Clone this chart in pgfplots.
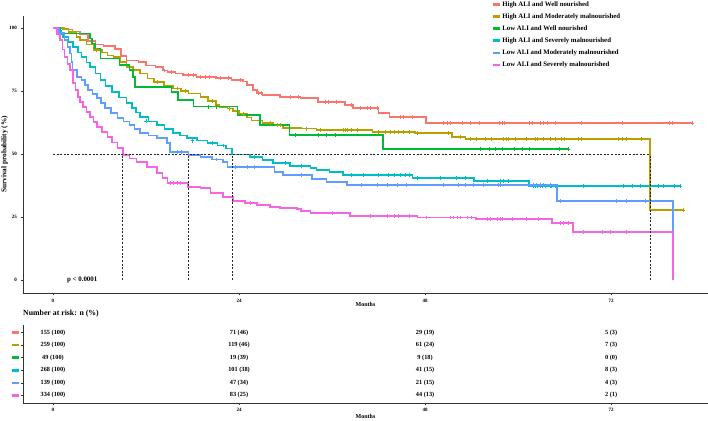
\documentclass[border=0pt]{standalone}
\usepackage{fontspec}
\setmainfont{Liberation Serif}
\usepackage{pgfplots}
\pgfplotsset{compat=1.18}
\definecolor{c1}{HTML}{F8766D}
\definecolor{c2}{HTML}{B79F00}
\definecolor{c3}{HTML}{00BA38}
\definecolor{c4}{HTML}{00BFC4}
\definecolor{c5}{HTML}{619CFF}
\definecolor{c6}{HTML}{F564E3}
\pgfplotsset{
  km/.style={const plot, mark=none, line width=1.5pt},
  cens/.style={only marks, mark=+, mark size=1.9pt, line width=0.5pt, forget plot},
  med/.style={dashed, dash pattern=on 2pt off 1.6pt, black!85, line width=0.6pt, forget plot},
}
\begin{document}
\begin{tikzpicture}[x=1pt,y=1pt]
\path[use as bounding box] (0,0) rectangle (708,420);
\begin{axis}[
  at={(23pt,127pt)}, anchor=south west,
  scale only axis, width=685pt, height=277pt,
  xmin=-3.87, xmax=84.5, ymin=-5.16, ymax=104.8,
  axis lines=left, axis line style={-, black!80, line width=0.8pt},
  xtick={0,24,48,72}, ytick={0,25,50,75,100},
  tick align=outside, major tick length=2.5pt, tick style={black!80, line width=0.5pt},
  /pgf/number format/assume math mode=true,
  ticklabel style={font=\fontsize{5}{6}\selectfont\bfseries},
  xlabel={Months}, ylabel={Survival probability (\%)},
  xlabel style={at={(axis description cs:0.5,-0.043)}, anchor=center, inner sep=0pt, font=\fontsize{6}{7}\selectfont\bfseries},
  ylabel style={at={(axis description cs:-0.0215,0.5)}, anchor=south, inner sep=0pt, font=\fontsize{7.3}{8}\selectfont\bfseries},
  legend style={at={(axis description cs:0.684,1.058)}, anchor=north west, draw=none, fill=none,
    font=\fontsize{6.8}{8}\selectfont\bfseries, inner sep=0pt, row sep=3.4pt,
    nodes={inner sep=1pt, text height=5.2pt, text depth=1.5pt},
    /tikz/every even column/.append style={column sep=5pt}},
  legend cell align=left,
  legend image code/.code={\draw[#1, line width=2.6pt] (0pt,0pt) -- (7pt,0pt);},
  clip=false,
]
% High ALI and Well nourished
\addplot[km, c1] coordinates {
(0,100) (1.5,99.4) (2.5,98.7) (3.5,97.4) (4.5,94.8) (5.5,93.5) (6.5,92.9) (8,91.6) (8.8,89) (9.5,87.1)
(11,86.5) (12,85.2) (13.2,84.5) (14.2,83.2) (14.8,82.6) (15.8,81.9) (16.8,81.3) (18.5,80.6) (21,80.2)
(23,79.4) (24.5,78.7) (25,77.4) (25.8,75.5) (26.3,74.2) (27,73.5) (29.3,72.6) (31.9,72.2) (34.2,70.6)
(37.7,69.4) (38.7,68.3) (42,66.3) (43.4,64.7) (48.1,62.3) (82.6,62.3)};
\addlegendentry{High ALI and Well nourished}
% High ALI and Moderately malnourished
\addplot[km, c2] coordinates {
(0,100) (1.3,99.6) (2.0,98.5) (3.0,96.5) (3.5,95.2) (4.3,93.5) (5.2,91.3) (6.3,90.3) (7.0,89.2) (7.8,88.5)
(8.7,86.5) (9.5,84.5) (10.3,83.4) (11.2,82) (12.2,80) (13,78.6) (14.3,77.3) (15.5,76) (16.5,75) (17.5,74)
(19,72.6) (20,71) (21,69.5) (21.5,68.7) (22.5,68) (23.2,67) (24,65.8) (25,64.6) (25.6,63.4) (27,62.3)
(28.4,61.5) (29.7,60.3) (32,60.1) (34,59.5) (41.2,58.7) (46.7,58.3) (51.5,56.7) (53.2,56) (77,27.8) (81.3,27.8)};
\addlegendentry{High ALI and Moderately malnourished}
% Low ALI and Well nourished
\addplot[km, c3] coordinates {
(0,100) (0.9,97.9) (4.8,95.9) (5.0,93.9) (5.4,91.9) (6.1,88) (8.6,85.3) (9.9,83.3) (10.3,80.6) (10.6,76.7)
(15.3,74.7) (16.1,71.4) (18.1,68.8) (23.8,65.5) (26.7,61.5) (30.5,57.5) (42.6,52) (66.5,52)};
\addlegendentry{Low ALI and Well nourished}
% High ALI and Severely malnourished
\addplot[km, c4] coordinates {
(0,100) (0.5,99) (1.0,97.5) (1.3,96.4) (2.0,94.5) (2.6,92.5) (3.2,90.3) (3.7,88.5) (4.3,86.3) (4.8,84.5)
(5.5,82) (6.1,79.4) (6.8,77) (7.6,74.6) (8.5,72.4) (9.5,70.2) (10.2,68.3) (10.7,66.5) (11.2,64.7) (12.3,63)
(13.4,61.5) (14.4,60) (15.5,58.3) (16.4,57.3) (17.3,56.3) (18.6,55.3) (19.9,54.4) (21.2,53.4) (22.3,52.2)
(23.1,49.9) (25.4,48.8) (27,47.6) (28.4,46.4) (30.6,45.2) (33.2,44.4) (34,43.7) (35.7,42.9) (37.4,41.7)
(46.4,40.5) (54.3,39.3) (61.4,37.3) (80.9,37.3)};
\addlegendentry{High ALI and Severely malnourished}
% Low ALI and Moderately malnourished
\addplot[km, c5] coordinates {
(0,100) (0.8,98) (1.5,95.2) (1.9,92.5) (2.2,90) (2.4,86.5) (2.5,83.3) (3.1,80.6) (3.7,79.4) (4.1,77.4)
(4.5,75.4) (5.1,73.8) (5.7,72.2) (6.2,70.3) (6.7,68.3) (7.5,66.3) (8.3,64.3) (9.1,62.9) (9.9,61.5) (10.5,60)
(11.2,58.3) (12.3,57.3) (13.4,56.3) (14.7,54.4) (15.1,50.8) (17.5,49.6) (19,48.8) (20.5,47.8) (21.9,46.8)
(22.5,44.8) (28.6,42.9) (29.7,41.7) (33.4,40) (35.3,38.9) (37.9,37.7) (65,31.3) (80,0) (80,0)};
\addlegendentry{Low ALI and Moderately malnourished}
% Low ALI and Severely malnourished
\addplot[km, c6] coordinates {
(0,100) (0.5,97.5) (0.9,95.2) (1.2,91.5) (1.5,88.5) (1.9,85.8) (2.2,83.3) (2.6,78.2) (2.9,75.4) (3.2,72.6)
(3.5,70.6) (3.9,68.7) (4.3,66.6) (4.8,64.7) (5.2,62.7) (5.7,60.7) (6.3,58.7) (7,56.7) (7.6,54.5) (8.3,52.4)
(9,49.6) (9.9,48.2) (10.8,46.8) (12.1,44.8) (13.4,42.5) (14.1,40.5) (14.8,38.5) (17.4,36.9) (19,36.5)
(20.3,34.5) (21.9,32.9) (23.2,31.3) (24.8,30.6) (26.3,29.8) (28,29) (29.3,28.6) (31.5,28.2) (32,27.4)
(33.2,26.6) (38.3,25.4) (47,24.8) (54.6,24.2) (64.4,22.6) (67.1,19) (80,0) (80,0)};
\addlegendentry{Low ALI and Severely malnourished}
% median lines
\addplot[med] coordinates {(0,50) (77,50)};
\addplot[med] coordinates {(9,0) (9,50)};
\addplot[med] coordinates {(17.5,0) (17.5,50)};
\addplot[med] coordinates {(23.1,0) (23.1,50)};
\addplot[med] coordinates {(77,0) (77,50)};
% censor marks
\addplot[cens, c1] coordinates {
(14.3,83.2) (15.2,82.6) (17.5,81.3) (18.1,81.3) (19,80.6) (19.6,80.6) (20.2,80.6) (21.6,80.2) (22.6,80.2)
(24.1,79.4) (26.5,74.2) (26.9,74.2) (30.6,72.6) (31.7,72.6) (35.1,70.6) (35.5,70.6) (36.6,70.6) (38.5,69.4)
(39.6,68.3) (40.5,68.3) (40.9,68.3) (41.8,68.3) (44.8,64.7) (45.2,64.7) (46.3,64.7) (50.4,62.3) (50.8,62.3)
(51.2,62.3) (52.8,62.3) (53.8,62.3) (55,62.3) (57.6,62.3) (57.9,62.3) (58.2,62.3) (61.5,62.3) (61.8,62.3)
(62.8,62.3) (63.3,62.3) (63.8,62.3) (64.8,62.3) (68.2,62.3) (73.5,62.3) (79.5,62.3) (79.9,62.3) (82.5,62.3)};
\addplot[cens, c2] coordinates {
(5.6,91.3) (13.5,78.6) (16,76) (17,75) (20.5,71) (22.8,68) (24.5,65.8) (28,62.3) (28.9,61.5) (29.3,61.5)
(32.7,60.1) (34.5,59.5) (37.5,59.5) (37.7,59.5) (37.9,59.5) (38.5,59.5) (39.2,59.5) (42,58.7) (42.8,58.7)
(43.5,58.7) (44,58.7) (44.6,58.7) (45.2,58.7) (46,58.7) (47,58.3) (51,58.3) (52.5,56.7) (53.8,56) (54.6,56)
(55.7,56) (56.5,56) (58.1,56) (58.5,56) (58.7,56) (59.6,56) (61,56) (62.2,56) (62.5,56) (63.3,56) (64.2,56)
(64.8,56) (65.6,56) (66,56) (67.7,56) (68.1,56) (72.9,56) (73.4,56) (74,56) (75.9,56) (81.3,27.8)};
\addplot[cens, c3] coordinates {
(20,68.8) (21,68.8) (31.2,57.5) (34.2,57.5) (35.3,57.5) (36.4,57.5) (55.1,52) (56.3,52) (57,52) (57.9,52)
(59.5,52) (60.6,52) (61.5,52) (65.3,52) (66.5,52)};
\addplot[cens, c4] coordinates {
(12,63) (18,55.3) (20.5,54.4) (22,53.4) (26,48.8) (30,46.4) (32,45.2) (38.5,41.7) (40,41.7) (42,41.7)
(43.2,41.7) (44,41.7) (44.8,41.7) (45.5,41.7) (46,41.7) (47,40.5) (49.9,40.5) (52,40.5) (53.2,40.5) (56,39.3)
(57.7,39.3) (58.1,39.3) (58.7,39.3) (62,37.3) (62.2,37.3) (62.5,37.3) (62.8,37.3) (63.1,37.3) (63.5,37.3)
(64.1,37.3) (64.3,37.3) (64.8,37.3) (68.4,37.3) (73.6,37.3) (74.7,37.3) (75.7,37.3) (78.1,37.3) (78.7,37.3)
(80.1,37.3) (80.9,37.3)};
\addplot[cens, c5] coordinates {
(16,50.8) (16.5,50.8) (21,47.8) (23.5,44.8) (25,44.8) (26,44.8) (32,41.7) (39.8,37.7) (41.8,37.7) (43.1,37.7)
(44.4,37.7) (45.6,37.7) (50.4,37.7) (52.3,37.7) (53.2,37.7) (54.2,37.7) (55.5,37.7) (57.5,37.7) (57.7,37.7)
(61.5,37.7) (62,37.7) (62.4,37.7) (62.8,37.7) (63.3,37.7) (64.1,37.7) (65.4,31.3) (72.7,31.3) (74,31.3) (76.4,31.3)};
\addplot[cens, c6] coordinates {
(15.1,38.5) (15.5,38.5) (16,38.5) (16.4,38.5) (25.5,30.6) (36,26.6) (40.9,25.4) (43.1,25.4) (44,25.4)
(44.6,25.4) (46,25.4) (48.2,24.8) (51.2,24.8) (51.6,24.8) (52.1,24.8) (52.5,24.8) (53.5,24.8) (54,24.8)
(56,24.2) (56.4,24.2) (57.3,24.2) (57.7,24.2) (57.9,24.2) (59.2,24.2) (61.1,24.2) (62.6,24.2) (65.4,22.6)
(65.8,22.6) (66.5,22.6) (68.4,19) (70.8,19) (71.9,19) (74,19)};
\node[anchor=west, inner sep=0pt, font=\fontsize{6.9}{8}\selectfont\bfseries] at (axis cs:1.8,0) {p < 0.0001};
\end{axis}
% risk table
\begin{axis}[
  at={(23pt,17pt)}, anchor=south west,
  scale only axis, width=685pt, height=78pt,
  xmin=-3.87, xmax=84.5, ymin=0.4, ymax=6.6,
  axis lines=left, axis line style={-, black!80, line width=0.8pt},
  xtick={0,24,48,72}, ytick={1,2,3,4,5,6},
  yticklabels={\textcolor{c6}{\rule{7pt}{2.6pt}},\textcolor{c5}{\rule{7pt}{2.6pt}},\textcolor{c4}{\rule{7pt}{2.6pt}},\textcolor{c3}{\rule{7pt}{2.6pt}},\textcolor{c2}{\rule{7pt}{2.6pt}},\textcolor{c1}{\rule{7pt}{2.6pt}}},
  tick align=outside, major tick length=2pt, tick style={black!80, line width=0.5pt},
  /pgf/number format/assume math mode=true,
  ticklabel style={font=\fontsize{5}{6}\selectfont\bfseries},
  yticklabel style={inner sep=1.5pt},
  xlabel={Months},
  xlabel style={at={(axis description cs:0.5,-0.167)}, anchor=center, inner sep=0pt, font=\fontsize{6}{7}\selectfont\bfseries},
  title={Number at risk: n (\%)},
  title style={at={(axis description cs:0,1)}, anchor=south west, inner sep=0pt, yshift=1.5pt, font=\fontsize{7.8}{9}\selectfont\bfseries},
  clip=false,
]
\addplot[draw=none, mark=none, nodes near coords, point meta=explicit symbolic,
  every node near coord/.append style={anchor=center, inner sep=0pt, font=\fontsize{6.3}{7}\selectfont\bfseries}]
  table[col sep=comma, meta=t] {
x,y,t
0,6,155 (100)
24,6,71 (46)
48,6,29 (19)
72,6,5 (3)
0,5,259 (100)
24,5,119 (46)
48,5,61 (24)
72,5,7 (3)
0,4,49 (100)
24,4,19 (39)
48,4,9 (18)
72,4,0 (0)
0,3,268 (100)
24,3,101 (38)
48,3,41 (15)
72,3,8 (3)
0,2,139 (100)
24,2,47 (34)
48,2,21 (15)
72,2,4 (3)
0,1,334 (100)
24,1,83 (25)
48,1,44 (13)
72,1,2 (1)
};
\end{axis}
\end{tikzpicture}
\end{document}
